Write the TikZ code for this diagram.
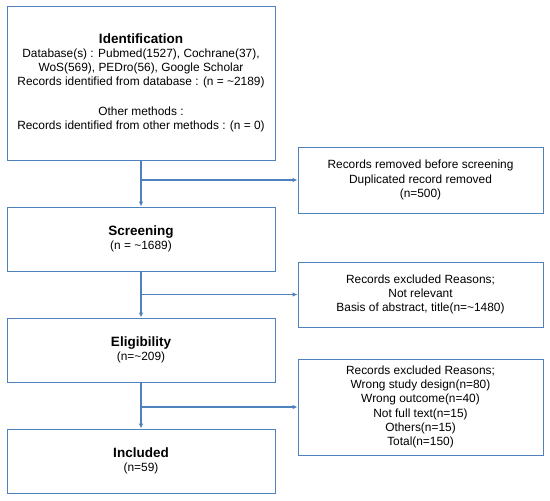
\documentclass[tikz,border=0pt]{standalone}
\usepackage{fontspec}
\setmainfont{Liberation Sans}
\usetikzlibrary{arrows.meta}
\definecolor{boxblue}{HTML}{4F81BD}
\tikzset{
  stage/.style={draw=boxblue, line width=0.8pt, minimum width=268pt, align=center,
    inner sep=2pt, font=\fontsize{11.9}{13.9}\selectfont},
  side/.style={draw=boxblue, line width=0.8pt, minimum width=245pt, align=center,
    inner sep=2pt, font=\fontsize{11.9}{14.3}\selectfont},
  flow/.style={draw=boxblue, line width=1.6pt, -{Latex[length=5pt,width=4.5pt]}},
}
\newcommand{\stagetitle}[1]{{\fontsize{13.5}{16.5}\selectfont\bfseries #1}}
\begin{document}
\begin{tikzpicture}[x=1pt,y=-1pt]
  \useasboundingbox (0,0) rectangle (550,501);

  \node[stage, minimum height=154pt] (ident) at (141,83)
    {\stagetitle{Identification}\\
     Database(s) : Pubmed(1527), Cochrane(37),\\
     WoS(569), PEDro(56), Google Scholar\\
     Records identified from database : (n = \textasciitilde2189)\\[16pt]
     Other methods :\\
     Records identified from other methods : (n = 0)};
  \node[stage, minimum height=64pt] (screen) at (141,239)
    {\stagetitle{Screening}\\(n = \textasciitilde1689)};
  \node[stage, minimum height=64pt] (elig) at (141,350)
    {\stagetitle{Eligibility}\\(n=\textasciitilde209)};
  \node[stage, minimum height=64pt] (incl) at (141,461)
    {\stagetitle{Included}\\(n=59)};

  \node[side, minimum height=66pt] (removed) at (420.5,180)
    {Records removed before screening\\
     Duplicated record removed\\
     (n=500)};
  \node[side, minimum height=65pt] (exclA) at (420.5,294.5)
    {Records excluded Reasons;\\
     Not relevant\\
     Basis of abstract, title(n=\textasciitilde1480)};
  \node[side, minimum height=96pt] (exclB) at (420.5,407)
    {Records excluded Reasons;\\
     Wrong study design(n=80)\\
     Wrong outcome(n=40)\\
     Not full text(n=15)\\
     Others(n=15)\\
     Total(n=150)};

  % main flow
  \draw[flow] (ident) -- (screen);
  \draw[flow] (screen) -- (elig);
  \draw[flow] (elig) -- (incl);

  % side branches
  \draw[flow] (ident.south |- removed) -- (removed);
  \draw[flow] (screen.south |- exclA) -- (exclA);
  \draw[flow] (elig.south |- exclB) -- (exclB);
\end{tikzpicture}
\end{document}
